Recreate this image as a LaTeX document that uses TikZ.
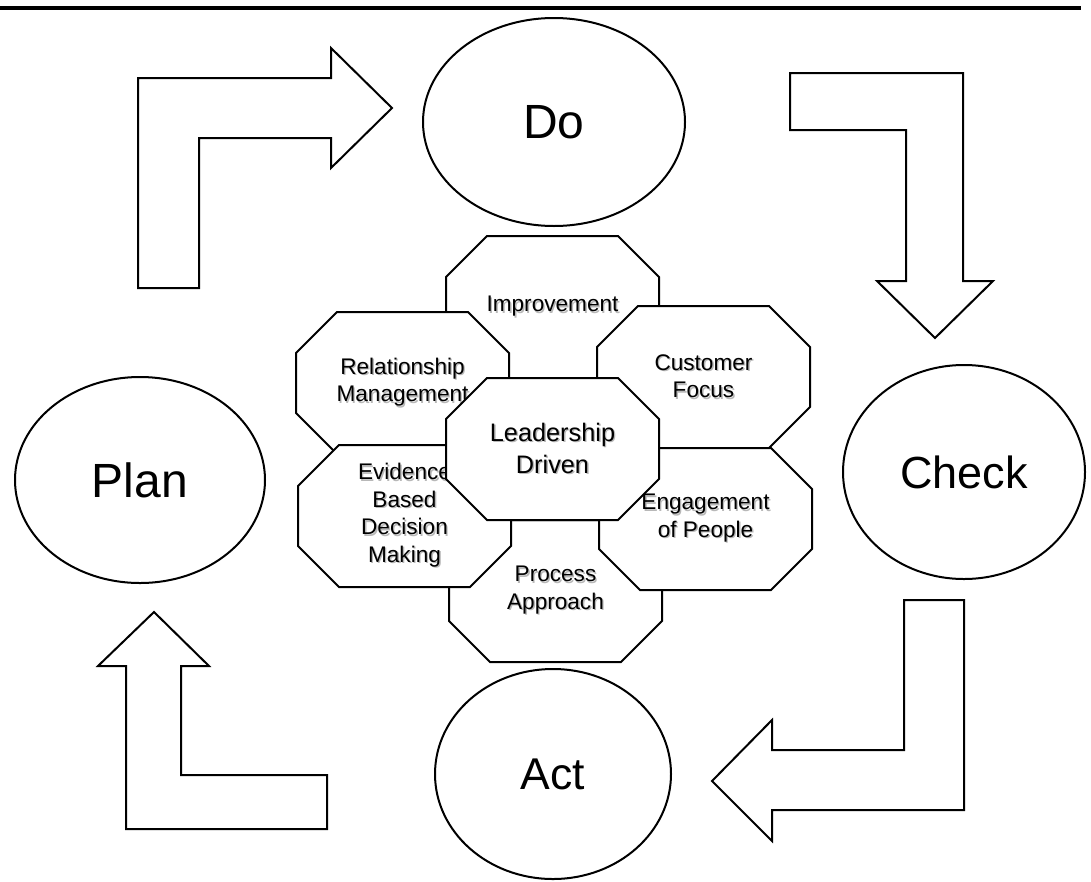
\documentclass[tikz,border=0pt]{standalone}
\usepackage{fontspec}
\setmainfont{Liberation Sans}
\usetikzlibrary{shapes.geometric,positioning}
\newcommand{\Shd}[1]{\leavevmode\rlap{\kern1.4pt\raisebox{-1.4pt}{\textcolor{black!28}{#1}}}#1}
% octagon with its label: [label style] {name} {centre} {text}
\newcommand{\Octagon}[4][]{%
	\filldraw[fill=white] #3 +(-65.5,-71) -- +(65.5,-71) -- +(106.5,-30) --
	+(106.5,30) -- +(65.5,71) -- +(-65.5,71) -- +(-106.5,30) --
	+(-106.5,-30) -- cycle;
	\node[octatext,#1] (#2) at #3 {#4};}

\begin{document}
\begin{tikzpicture}[x=1pt, y=-1pt, line width=2pt, line join=miter]
	\tikzstyle{phase}=[draw, ellipse, inner sep=0pt, fill=white]
	\tikzstyle{octatext}=[inner sep=0pt, align=center,
	font=\fontsize{22.6}{27.5}\selectfont]
	\tikzstyle{bigarrow}=[draw, fill=white]

	\useasboundingbox (0,0) rectangle (1091,881);
	\draw[line width=4pt] (0,8) -- (1081,8);

	% the four phases
	\node[phase, minimum width=262pt, minimum height=208pt,
	font=\fontsize{48}{48}\selectfont] (do) at (554,122) {Do};
	\node[phase, minimum width=250pt, minimum height=206pt,
	font=\fontsize{48}{48}\selectfont] (plan) at (140,480) {Plan};
	\node[phase, minimum width=242pt, minimum height=214pt,
	font=\fontsize{45}{45}\selectfont] (check) at (964,472) {Check};
	\node[phase, minimum width=236pt, minimum height=210pt,
	font=\fontsize{44.5}{44.5}\selectfont] (act) at (553,774) {Act};

	% block arrows between the phases
	\draw[bigarrow] (138,288) -- (138,78) -- (331,78) -- (331,48) --
	(392,108) -- (331,168) -- (331,138) -- (199,138) -- (199,288) -- cycle;
	\draw[bigarrow] (790,73) -- (963,73) -- (963,281) -- (993,281) --
	(935,338) -- (877,281) -- (906,281) -- (906,130) -- (790,130) -- cycle;
	\draw[bigarrow] (904,600) -- (964,600) -- (964,810) -- (772,810) --
	(772,841) -- (712,781) -- (772,720) -- (772,750) -- (904,750) -- cycle;
	\draw[bigarrow] (327,829) -- (126,829) -- (126,666) -- (98,666) --
	(154,612) -- (209,666) -- (181,666) -- (181,775) -- (327,775) -- cycle;

	% principles, back to front
	\Octagon{improve}{(552.5,307)}{\Shd{Improvement}}
	\Octagon{process}{(555.5,591)}{\Shd{Process}\\\Shd{Approach}}
	\Octagon{relation}{(402.5,383)}{\Shd{Relationship}\\\Shd{Management}}
	\Octagon{customer}{(703.5,377)}{\Shd{Customer}\\\Shd{Focus}}
	\Octagon{evidence}{(404.5,516)}
	{\Shd{Evidence}\\\Shd{Based}\\\Shd{Decision}\\\Shd{Making}}
	\Octagon{engage}{(705.5,519)}{\Shd{Engagement}\\\Shd{of People}}
	\Octagon[font=\fontsize{25.3}{32}\selectfont]{lead}{(552.5,449)}
	{\Shd{Leadership}\\\Shd{Driven}}
\end{tikzpicture}
\end{document}
